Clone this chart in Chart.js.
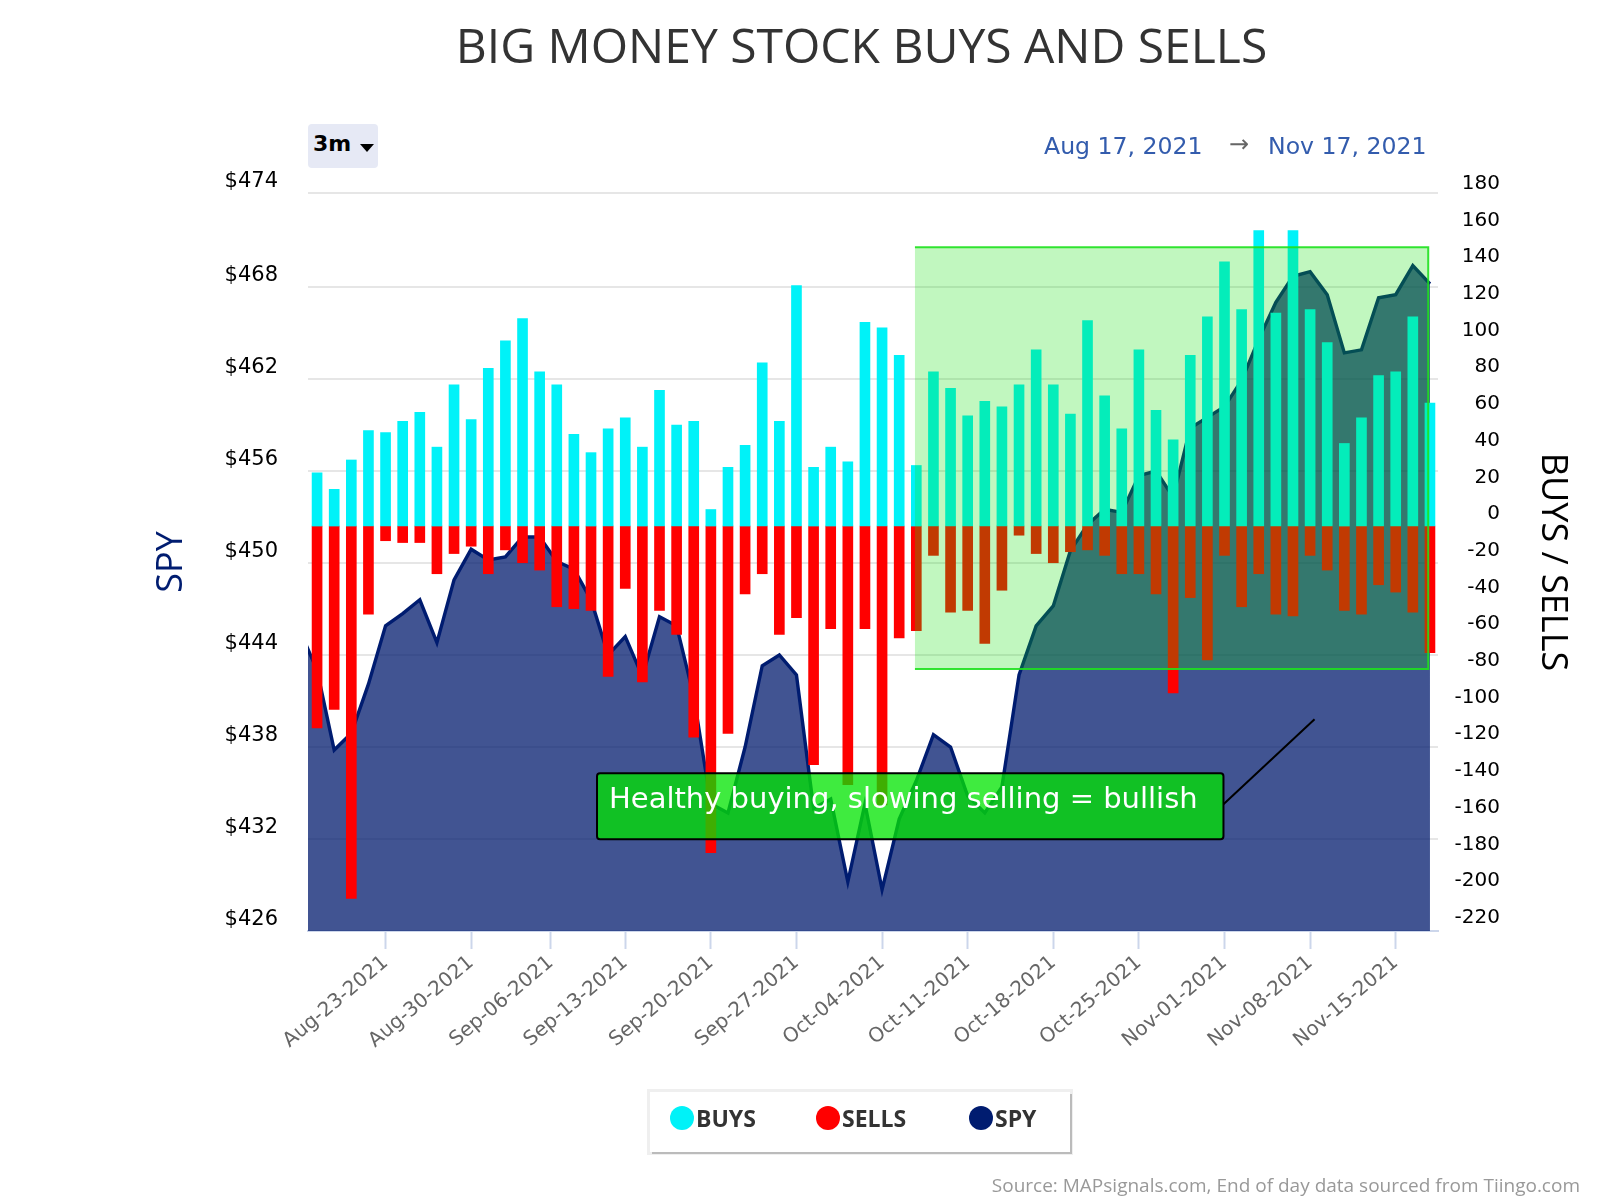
<!DOCTYPE html>
<html><head><meta charset="utf-8">
<style>
html,body{margin:0;padding:0;background:#fff;width:1600px;height:1200px;overflow:hidden}
#wrap{position:relative;width:1600px;height:1200px}
canvas{position:absolute;left:0;top:0}
.t{position:absolute;white-space:nowrap}
#title{left:0;width:1723px;top:12px;text-align:center;font:48px "Open Sans",sans-serif;color:#333}
#btn{left:308px;top:124px;width:70px;height:44px;background:#e6e9f5;border-radius:4px}
#btn span{position:absolute;left:5px;top:7px;font:bold 22px "DejaVu Sans",sans-serif;color:#000}
#btn i{position:absolute;left:52px;top:20px;width:0;height:0;border-left:7px solid transparent;border-right:7px solid transparent;border-top:8px solid #000}
.range{font:23.6px "DejaVu Sans",sans-serif;color:#335cad;top:132px}
#arrow{left:1229px;top:130px;color:#666;font:24px "DejaVu Sans",sans-serif}
#legend{position:absolute;left:650px;top:1092px;width:420px;height:60px;background:#fff;box-shadow:2px 2px 0 #bbb,0 0 0 3px #efefef}
.li{position:absolute;top:0;height:60px}
.dot{position:absolute;top:14px;width:24px;height:24px;border-radius:50%}
.lab{position:absolute;top:10px;font:bold 23px "Open Sans",sans-serif;color:#333;white-space:nowrap}
#source{right:20px;top:1172px;font:19px "Open Sans",sans-serif;color:#999}
</style></head><body>
<div id="wrap">
<canvas id="c" width="1600" height="1200"></canvas>
<div class="t" id="title">BIG MONEY STOCK BUYS AND SELLS</div>
<div class="t" id="btn"><span>3m</span><i></i></div>
<div class="t range" style="left:1044px">Aug 17, 2021</div>
<div class="t" id="arrow">→</div>
<div class="t range" style="left:1268px">Nov 17, 2021</div>
<div id="legend"></div>
<div class="t" id="source">Source: MAPsignals.com, End of day data sourced from Tiingo.com</div>
</div>
<script src="https://cdn.jsdelivr.net/npm/chart.js@4/dist/chart.umd.min.js"></script>
<script>
const buys=[29,20,36,52,51,57,62,43,77,58,86,101,113,84,77,50,40,53,59,43,74,55,57,9,32,44,89,57,131,32,43,35,111,108,93,33,84,75,60,68,65,77,96,77,61,112,71,53,96,63,47,93,114,144,118,161,116,161,118,100,45,59,82,84,114,67];
const sells=[-110,-100,-203,-48,-8,-9,-9,-26,-15,-11,-26,-13,-20,-24,-44,-45,-46,-82,-34,-85,-46,-59,-115,-178,-113,-37,-26,-59,-50,-130,-56,-141,-56,-152,-61,-57,-16,-47,-46,-64,-35,-5,-15,-20,-14,-13,-16,-26,-26,-37,-91,-39,-73,-16,-44,-26,-48,-49,-16,-24,-46,-48,-32,-36,-47,-69];
const spyIndex=[-1,0,1,2,3,4,5,6,7,8,9,10,11,12,13,14,15,16,17,18,19,20,21,22,23,24,25,26,27,28,29,30,31,32,33,34,35,36,37,38,39,40,41,42,43,44,45,46,47,48,49,50,51,52,53,54,55,56,57,58,59,60,61,62,63,64,65];
const spy=[445.6,443.0,437.8,438.9,442.1,445.9,446.7,447.6,444.8,448.9,450.9,450.2,450.4,451.7,451.7,450.1,449.6,447.6,444.0,445.2,442.6,446.5,445.9,441.3,434.3,433.7,438.0,443.3,444.0,442.7,434.0,434.6,429.2,434.3,428.7,433.3,435.8,438.8,438.0,434.8,433.7,435.4,442.7,445.9,447.2,450.8,452.5,453.5,453.3,455.7,456.0,454.3,458.8,459.5,460.2,461.9,464.6,467.0,468.7,469.0,467.5,463.7,463.9,467.3,467.5,469.4,468.2];
const xTickPos=[4,9,13.66,18,23,28,33,38,43,48,53,58,63];
const xTickLabels=['Aug-23-2021','Aug-30-2021','Sep-06-2021','Sep-13-2021','Sep-20-2021','Sep-27-2021','Oct-04-2021','Oct-11-2021','Oct-18-2021','Oct-25-2021','Nov-01-2021','Nov-08-2021','Nov-15-2021'];
const leftTicks=[426,432,438,444,450,456,462,468,474.13];
const rightTicks=[-220,-200,-180,-160,-140,-120,-100,-80,-60,-40,-20,0,20,40,60,80,100,120,140,160,180];
const seriesNames=['BUYS','SELLS','SPY'];
const seriesColors=['#00f2f8','#ff0000','#001c70'];
const greenZone={x0:34.92,x1:64.9,y0:443.09,y1:470.6};
const noteBox={x0:16.35,x1:52.94,y0:431.98,y1:436.28};
const noteLine={x0:52.94,y0:434.26,x1:58.26,y1:439.81};
const noteText='Healthy buying, slowing selling = bullish';

const overlay={id:'overlay',afterDatasetsDraw(chart){
  const {ctx,scales:{x,y}}=chart;
  ctx.save();
  const zx=x.getPixelForValue(greenZone.x0),zw=x.getPixelForValue(greenZone.x1)-zx,zy=y.getPixelForValue(greenZone.y1),zh=y.getPixelForValue(greenZone.y0)-zy;
  ctx.fillStyle='rgba(16,223,9,0.26)';ctx.fillRect(zx,zy,zw,zh);
  ctx.strokeStyle='rgba(30,225,30,0.9)';ctx.lineWidth=2;
  ctx.beginPath();ctx.moveTo(zx,zy);ctx.lineTo(zx+zw,zy);ctx.lineTo(zx+zw,zy+zh);ctx.lineTo(zx,zy+zh);ctx.stroke();
  ctx.strokeStyle='#000';ctx.lineWidth=2;ctx.beginPath();
  ctx.moveTo(x.getPixelForValue(noteLine.x0),y.getPixelForValue(noteLine.y0));
  ctx.lineTo(x.getPixelForValue(noteLine.x1),y.getPixelForValue(noteLine.y1));ctx.stroke();
  const bx=x.getPixelForValue(noteBox.x0),bw=x.getPixelForValue(noteBox.x1)-bx,by=y.getPixelForValue(noteBox.y1),bh=y.getPixelForValue(noteBox.y0)-by;
  ctx.fillStyle='rgba(3,229,3,0.76)';ctx.beginPath();ctx.roundRect(bx,by,bw,bh,3);ctx.fill();
  ctx.strokeStyle='#000';ctx.stroke();
  ctx.fillStyle='#fff';ctx.font='29px "DejaVu Sans",sans-serif';ctx.textAlign='left';ctx.textBaseline='middle';
  ctx.fillText(noteText,bx+12,by+27);
  ctx.restore();
}};

new Chart(document.getElementById('c'),{
  data:{datasets:[
    {type:'bar',label:seriesNames[0],data:buys.map((v,i)=>({x:i,y:v})),backgroundColor:seriesColors[0],yAxisID:'y1',grouped:false,barThickness:10,order:1},
    {type:'bar',label:seriesNames[1],data:sells.map((v,i)=>({x:i,y:v})),backgroundColor:seriesColors[1],yAxisID:'y1',grouped:false,barThickness:10,order:2},
    {type:'line',label:seriesNames[2],data:spy.map((v,i)=>({x:spyIndex[i],y:v})),borderColor:seriesColors[2],borderWidth:3.4,backgroundColor:'rgba(1,27,110,0.75)',fill:'start',pointRadius:0,tension:0,yAxisID:'y',order:3,borderJoinStyle:'miter'}
  ]},
  options:{
    responsive:false,animation:false,devicePixelRatio:1,
    layout:{padding:{left:150,right:100,top:193,bottom:0}},
    plugins:{legend:{display:false},title:{display:false},tooltip:{enabled:false}},
    scales:{
      x:{type:'linear',offset:false,min:-0.53,max:65.47,
        grid:{offset:false,drawOnChartArea:false,drawTicks:true,tickLength:18,tickColor:'#ccd6eb',tickWidth:2},
        border:{color:'#ccd6eb',width:2},
        afterBuildTicks(s){s.ticks=xTickPos.map(v=>({value:v}));},
        afterFit(s){s.height=269;},
        ticks:{autoSkip:false,maxRotation:40,minRotation:40,padding:2,color:'#666',font:{family:'"DejaVu Sans"',size:20},
          callback(v,i){return xTickLabels[i];}}},
      y:{type:'linear',position:'left',min:426,max:474.13,
        grid:{color:'#e6e6e6',lineWidth:2,drawTicks:false},border:{display:false},
        afterBuildTicks(s){s.ticks=leftTicks.map(v=>({value:v}));},
        afterFit(s){s.width=158;},
        ticks:{padding:30,labelOffset:-11,color:'#000',font:{family:'"DejaVu Sans"',size:21},callback:v=>'$'+Math.round(v)},
        title:{display:true,text:'SPY',color:'#001c70',font:{family:'"Open Sans"',size:36},padding:{top:0,bottom:0}}},
      y1:{type:'linear',position:'right',min:-220.7,max:181.5,
        grid:{display:false,drawTicks:false},border:{display:false},
        afterBuildTicks(s){s.ticks=rightTicks.map(v=>({value:v}));},
        afterFit(s){s.width=62;},
        ticks:{crossAlign:'far',padding:10,labelOffset:-12,color:'#000',font:{family:'"DejaVu Sans"',size:20},callback:v=>String(v)},
        title:{display:true,text:'BUYS / SELLS',color:'#000',font:{family:'"Open Sans"',size:36},padding:{top:-74,bottom:0}}}
    }
  },
  plugins:[overlay]
});

const dotX=[20,166,319],labX=[46,192,345];
const lg=document.getElementById('legend');
seriesNames.forEach((n,i)=>{
  const d=document.createElement('div');d.className='dot';d.style.left=dotX[i]+'px';d.style.background=seriesColors[i];lg.appendChild(d);
  const l=document.createElement('div');l.className='lab';l.style.left=labX[i]+'px';l.textContent=n;lg.appendChild(l);
});
</script>
</body></html>
